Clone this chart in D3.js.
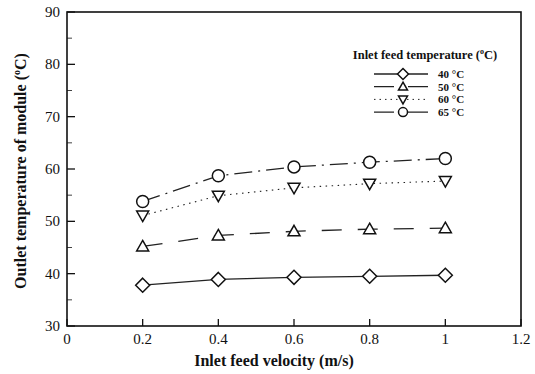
<!DOCTYPE html>
<html>
<head>
<meta charset="utf-8">
<script src="https://cdn.jsdelivr.net/npm/d3@7"></script>
<style>
  body { margin: 0; background: #fff; }
  text { font-family: "Liberation Serif", "Times New Roman", serif; fill: #111; }
</style>
</head>
<body>
<svg class="chart"></svg>
<script>
let velocities = [0.2, 0.4, 0.6, 0.8, 1.0]
let labels = ["40 °C", "50 °C", "60 °C", "65 °C"]
let t40 = [37.8, 38.9, 39.3, 39.5, 39.7]
let t50 = [45.2, 47.3, 48.1, 48.5, 48.7]
let t60 = [51.1, 54.9, 56.4, 57.2, 57.7]
let t65 = [53.8, 58.7, 60.4, 61.3, 62.0]
let xTicks = [0, 0.2, 0.4, 0.6, 0.8, 1, 1.2]
let yTicks = [30, 40, 50, 60, 70, 80, 90]
let yMinor = [35, 45, 55, 65, 75, 85]

let series = [
  { name: labels[0], values: t40, marker: "diamond", dash: null, legendDash: null },
  { name: labels[1], values: t50, marker: "up", dash: "20,16", legendDash: "20,14" },
  { name: labels[2], values: t60, marker: "down", dash: "1.5,4.5", legendDash: "1.5,4" },
  { name: labels[3], values: t65, marker: "circle", dash: "18,6,2,6", legendDash: "20,14" }
]

let margin = { top: 12, right: 14, bottom: 48, left: 67 }
let width = 535 - margin.left - margin.right
let height = 374 - margin.top - margin.bottom

let x = d3.scaleLinear().domain([0, 1.2]).range([0, width])
let y = d3.scaleLinear().domain([30, 90]).range([height, 0])

let svg = d3.select(".chart")
    .attr("width", 535)
    .attr("height", 374)
  .append("g")
    .attr("transform", "translate(" + margin.left + "," + margin.top + ")")

// frame
svg.append("rect")
    .attr("width", width)
    .attr("height", height)
    .attr("fill", "none")
    .attr("stroke", "#111")
    .attr("stroke-width", 1.6)

// x ticks (inward)
svg.selectAll(".xtick").data(xTicks).enter().append("line")
    .attr("x1", d => x(d)).attr("x2", d => x(d))
    .attr("y1", height).attr("y2", height - 7)
    .attr("stroke", "#111").attr("stroke-width", 1.3)

svg.selectAll(".xlab").data(xTicks).enter().append("text")
    .attr("x", d => x(d))
    .attr("y", height + 18)
    .attr("text-anchor", "middle")
    .attr("font-size", 15)
    .text(d => d)

// y ticks
svg.selectAll(".ytick").data(yTicks).enter().append("line")
    .attr("x1", 0).attr("x2", 8)
    .attr("y1", d => y(d)).attr("y2", d => y(d))
    .attr("stroke", "#111").attr("stroke-width", 1.3)

svg.selectAll(".yminor").data(yMinor).enter().append("line")
    .attr("x1", 0).attr("x2", 5)
    .attr("y1", d => y(d)).attr("y2", d => y(d))
    .attr("stroke", "#111").attr("stroke-width", 0.8)

svg.selectAll(".ylab").data(yTicks).enter().append("text")
    .attr("x", -7)
    .attr("y", d => y(d) + 5)
    .attr("text-anchor", "end")
    .attr("font-size", 15)
    .text(d => d)

// axis titles
svg.append("text")
    .attr("x", width / 2 - 20)
    .attr("y", height + 40)
    .attr("text-anchor", "middle")
    .attr("font-size", 16)
    .attr("font-weight", "bold")
    .text("Inlet feed velocity (m/s)")

let yt = svg.append("text")
    .attr("transform", "translate(-41," + (height / 2 + 2) + ") rotate(-90)")
    .attr("text-anchor", "middle")
    .attr("font-size", 16)
    .attr("font-weight", "bold")
yt.append("tspan").text("Outlet temperature of module (")
yt.append("tspan").attr("font-size", 10).attr("dy", -6).text("o")
yt.append("tspan").attr("dy", 6).text("C)")

function drawMarker(g, type, cx, cy, s) {
  if (type === "diamond") {
    g.append("path").attr("d", `M${cx},${cy - s - 1}L${cx + s + 1},${cy}L${cx},${cy + s + 1}L${cx - s - 1},${cy}Z`)
  } else if (type === "up") {
    g.append("path").attr("d", `M${cx},${cy - s}L${cx + s},${cy + s * 0.75}L${cx - s},${cy + s * 0.75}Z`)
  } else if (type === "down") {
    g.append("path").attr("d", `M${cx},${cy + s}L${cx + s},${cy - s * 0.75}L${cx - s},${cy - s * 0.75}Z`)
  } else {
    g.append("circle").attr("cx", cx).attr("cy", cy).attr("r", s)
  }
}

let line = d3.line()
    .x((d, i) => x(velocities[i]))
    .y(d => y(d))

series.forEach(function(s) {
  svg.append("path")
      .datum(s.values)
      .attr("d", line)
      .attr("fill", "none")
      .attr("stroke", "#222")
      .attr("stroke-width", s.marker === "down" ? 1.1 : 1.3)
      .attr("stroke-dasharray", s.dash)

  let mg = svg.append("g")
      .attr("fill", "#fff")
      .attr("stroke", "#111")
      .attr("stroke-width", 1.5)
  s.values.forEach(function(v, i) {
    drawMarker(mg, s.marker, x(velocities[i]), y(v), 6)
  })
})

// legend
let lg = svg.append("g").attr("transform", "translate(" + (374 - margin.left) + "," + (74 - margin.top) + ")")

let lt = lg.append("text")
    .attr("x", 51)
    .attr("y", -15)
    .attr("text-anchor", "middle")
    .attr("font-size", 12.5)
    .attr("font-weight", "bold")
lt.append("tspan").text("Inlet feed temperature (")
lt.append("tspan").attr("font-size", 8).attr("dy", -5).text("o")
lt.append("tspan").attr("dy", 5).text("C)")

series.forEach(function(s, i) {
  let row = lg.append("g").attr("transform", "translate(0," + (i * 12.7) + ")")
  row.append("line")
      .attr("x1", 0).attr("x2", 54)
      .attr("stroke", "#222")
      .attr("stroke-width", s.marker === "down" ? 1 : 1.3)
      .attr("stroke-dasharray", s.legendDash)
  let mg = row.append("g").attr("fill", "#fff").attr("stroke", "#111").attr("stroke-width", 1.5)
  drawMarker(mg, s.marker, 29, 0, 4.5)
  row.append("text")
      .attr("x", 64)
      .attr("y", 4)
      .attr("font-size", 11)
      .attr("font-weight", "bold")
      .text(s.name)
})
</script>
</body>
</html>
